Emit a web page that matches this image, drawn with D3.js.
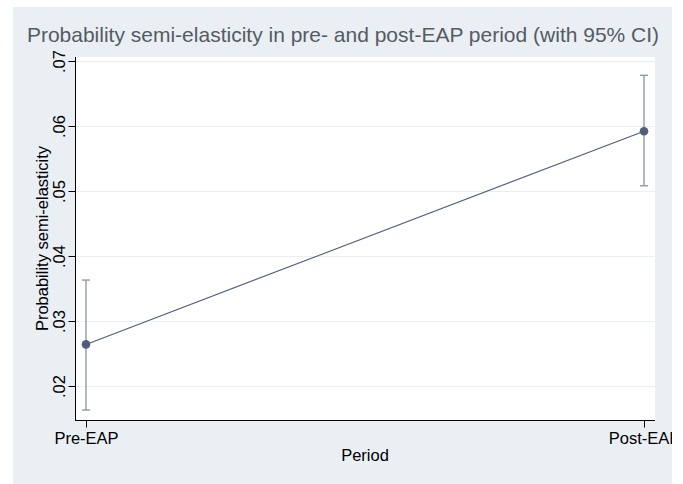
<!DOCTYPE html>
<html><head><meta charset="utf-8">
<script src="https://cdn.jsdelivr.net/npm/d3@7"></script>
<style>body{margin:0;background:#fff}svg{display:block}text{font-family:"Liberation Sans",Arial,Helvetica,sans-serif}</style>
</head><body>
<svg id="c" width="683" height="484"></svg>
<script>
const categories = ["Pre-EAP", "Post-EAP"];
const estimates = [0.0264, 0.0592];
const ciLower = [0.0163, 0.0508];
const ciUpper = [0.0363, 0.0678];
const yTicks = [0.02, 0.03, 0.04, 0.05, 0.06, 0.07];
const titleText = "Probability semi-elasticity in pre- and post-EAP period (with 95% CI)";
const yTitle = "Probability semi-elasticity";
const xTitle = "Period";

const svg = d3.select("#c");
const W = 683, H = 484;
const bg = {x0: 13, y0: 7, x1: 672, y1: 484};
const m = {l: 75, r: 655, t: 57, b: 420};
const FS = 16.5;

svg.append("rect").attr("x", bg.x0).attr("y", bg.y0).attr("width", bg.x1 - bg.x0).attr("height", bg.y1 - bg.y0).attr("fill", "#eaeff4");
svg.append("rect").attr("x", m.l).attr("y", m.t).attr("width", m.r - m.l).attr("height", m.b - m.t).attr("fill", "#ffffff");

const y = d3.scaleLinear().domain([0.02 - 34/6500, 0.07 + 4/6500]).range([m.b, m.t]);
const x = d3.scalePoint().domain(categories).range([m.l, m.r]).padding(11/558);

// grid
svg.append("g").selectAll("line").data(yTicks).join("line")
  .attr("x1", m.l).attr("x2", m.r)
  .attr("y1", d => Math.round(y(d)) + 0.5).attr("y2", d => Math.round(y(d)) + 0.5)
  .attr("stroke", "#eaeff4").attr("stroke-width", 1);

// axes
const yAxis = d3.axisLeft(y).tickValues(yTicks).tickSize(7).tickPadding(3)
  .tickFormat(d => d3.format(".2f")(d).replace(/^0\./, "."));
const gy = svg.append("g").attr("transform", `translate(${m.l + 0.5},0)`).call(yAxis);
gy.select(".domain").attr("d", `M-0,${m.t}V${m.b}`).attr("stroke", "#000");
gy.selectAll(".tick line").attr("stroke", "#000");
gy.selectAll(".tick text").attr("font-size", FS).attr("fill", "#000")
  .attr("transform", "rotate(-90)").attr("x", 0).attr("y", -11)
  .attr("text-anchor", "middle").attr("dy", "0");

const xAxis = d3.axisBottom(x).tickSize(7).tickPadding(4);
const gx = svg.append("g").attr("transform", `translate(0,${m.b + 0.5})`).call(xAxis);
gx.select(".domain").attr("d", `M${m.l},0H${m.r}`).attr("stroke", "#000");
gx.selectAll(".tick line").attr("stroke", "#000");
gx.selectAll(".tick text").attr("font-size", FS).attr("fill", "#000").attr("y", 0).attr("dy", 0)
  .attr("transform", "translate(0,23)");

// error bars
const ci = categories.map((c, i) => ({c, lo: ciLower[i], hi: ciUpper[i], est: estimates[i]}));
const eb = svg.append("g").attr("stroke", "#8593a8").attr("stroke-width", 1.3).attr("fill", "none");
eb.selectAll(".v").data(ci).join("line").attr("x1", d => x(d.c)).attr("x2", d => x(d.c))
  .attr("y1", d => y(d.lo)).attr("y2", d => y(d.hi));
eb.selectAll(".t").data(ci).join("line").attr("x1", d => x(d.c) - 4).attr("x2", d => x(d.c) + 4)
  .attr("y1", d => y(d.hi)).attr("y2", d => y(d.hi));
eb.selectAll(".b").data(ci).join("line").attr("x1", d => x(d.c) - 4).attr("x2", d => x(d.c) + 4)
  .attr("y1", d => y(d.lo)).attr("y2", d => y(d.lo));

// line + markers
svg.append("path").datum(ci).attr("fill", "none").attr("stroke", "#4f5f7a").attr("stroke-width", 1.1)
  .attr("d", d3.line().x(d => x(d.c)).y(d => y(d.est)));
svg.append("g").selectAll("circle").data(ci).join("circle")
  .attr("cx", d => x(d.c)).attr("cy", d => y(d.est)).attr("r", 4.3).attr("fill", "#4f5f7a");

// titles
svg.append("text").attr("x", 343).attr("y", 42).attr("text-anchor", "middle")
  .attr("font-size", 21).attr("fill", "#555b63").text(titleText);
svg.append("text").attr("transform", `translate(48,${(m.t + m.b) / 2}) rotate(-90)`)
  .attr("text-anchor", "middle").attr("font-size", FS).attr("fill", "#000").text(yTitle);
svg.append("text").attr("x", (m.l + m.r) / 2).attr("y", 461).attr("text-anchor", "middle")
  .attr("font-size", FS).attr("fill", "#000").text(xTitle);

// clip right side like reference (white margin)
svg.append("rect").attr("x", bg.x1).attr("y", 0).attr("width", W - bg.x1).attr("height", H).attr("fill", "#fff");
</script>
</body></html>
